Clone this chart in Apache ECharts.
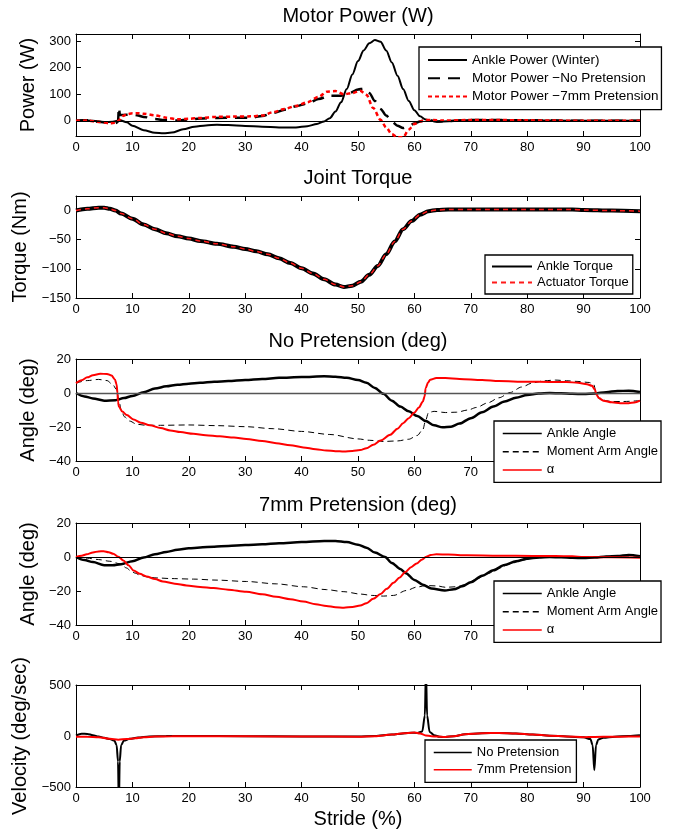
<!DOCTYPE html>
<html><head><meta charset="utf-8">
<script src="https://cdn.jsdelivr.net/npm/echarts@6/dist/echarts.min.js"></script>
<style>html,body{margin:0;padding:0;background:#fff}#c{width:676px;height:831px}</style>
</head><body><div id="c"></div>
<script>
// ---------- data (x = stride %, y = value) ----------
const strideTicks = [0,10,20,30,40,50,60,70,80,90,100];
const panelTitles = ['Motor Power (W)', 'Joint Torque', 'No Pretension (deg)', '7mm Pretension (deg)'];
const yNames = ['Power (W)', 'Torque (Nm)', 'Angle (deg)', 'Angle (deg)', 'Velocity (deg/sec)'];
const xName = 'Stride (%)';

const powerTicks = [0,100,200,300];
const torqueTicks = [-150,-100,-50,0];
const angleTicks = [-40,-20,0,20];
const velocityTicks = [-500,0,500];

const anklePower = [[0,0],[1.5,3],[3,0],[5,-5],[6.5,-3],[7.8,2],[9,-5],[10,-18],[12,-35],[14,-45],[15.5,-47],[17,-44],[19,-32],[21,-22],[23,-17],[25,-15],[27,-16],[30,-19],[33,-22],[36,-25],[39,-25],[41,-20],[42.7,-12],[44,-2],[45,10],[46,35],[47,70],[48,120],[49,175],[50,225],[51,265],[52,292],[53,304],[54,298],[55,265],[56,220],[57,170],[58,120],[59,75],[60,40],[61,17],[62,5],[63,0],[64,-3],[66,-1],[70,3],[75,3],[80,2],[85,1],[90,0],[95,0],[100,0]];
const motorPowerNoPre = [[0,0],[2,2],[4,-3],[6,-8],[7,-8],[7.45,-4],[7.6,50],[7.8,22],[9,23],[10,24],[11,20],[12,15],[14,7],[16,2],[18,1],[20,5],[22,9],[25,11],[28,12],[31,12],[33,18],[35,30],[37,42],[39,55],[41,65],[43,82],[45,95],[47,95],[48.5,105],[50,118],[51,122],[52,105],[53,75],[54,45],[55,20],[56,-3],[57,-18],[58,-27],[59,-20],[60,-10],[61,-2],[62,3],[63,1],[64,-2],[66,-1],[70,3],[75,3],[80,2],[85,1],[90,0],[100,0]];
const motorPower7mm = [[0,0],[2,1],[4,-4],[6,-9],[7,-7],[7.5,0],[8.3,18],[9,25],[10,29],[11,29],[12,27],[14,21],[16,12],[18,6],[20,8],[22,11],[25,15],[28,16],[31,17],[33,20],[35,33],[37,45],[39,56],[41,70],[43,90],[44.5,110],[46,112],[47.5,100],[49,105],[50.4,113],[51.5,98],[52.7,48],[54,4],[55,-25],[56,-50],[57,-62],[58,-62],[59,-33],[60,-12],[61,-2],[62,3],[63,3],[65,1],[70,3],[75,3],[80,2],[85,1],[90,0],[100,0]];

const ankleTorque = [[0,0],[2,3],[4,5],[5,5],[6,3],[7,0],[8,-5],[10,-14],[12,-24],[14,-32],[16,-39],[18,-44],[20,-48],[22,-52],[25,-57],[28,-62],[30,-66],[32,-70],[34,-75],[36,-82],[38,-90],[40,-99],[42,-108],[44,-118],[46,-127],[47.5,-131],[49,-129],[50.5,-122],[52,-110],[53.5,-95],[55,-75],[56.5,-53],[58,-32],[59.5,-18],[61,-7],[62.5,-1],[64,1],[66,2],[70,2],[80,2],[88,2],[90,1],[95,0],[100,-1]];
const actuatorTorque = [[0,0],[2,3],[4,5],[5,5],[6,3],[7,0],[8,-5],[10,-14],[12,-24],[14,-32],[16,-39],[18,-44],[20,-48],[22,-52],[25,-57],[28,-62],[30,-66],[32,-70],[34,-75],[36,-82],[38,-90],[40,-99],[42,-108],[44,-118],[46,-127],[47.5,-131],[49,-129],[50.5,-122],[52,-110],[53.5,-95],[55,-75],[56.5,-53],[58,-32],[59.5,-18],[61,-7],[62.5,-1],[64,1],[66,2],[70,2],[80,2],[88,2],[90,1],[95,0],[100,-1]];

const ankleAngleNoPre = [[0,0],[1.5,-2],[3,-3.2],[5,-4.5],[7,-4.2],[8.5,-3],[10,-1.7],[12,0.5],[14,2.6],[16,3.9],[18,4.9],[20,5.5],[22,6],[24.5,6.6],[27,7],[30,7.6],[33,8.2],[36,8.9],[40,9.4],[44,9.8],[46,9.6],[48,9],[50,7.6],[51.5,6],[53,3],[54.5,-0.5],[56,-4.5],[57.5,-8],[59,-10.8],[60.5,-13.5],[62,-16.5],[63.5,-19],[65,-20.2],[66.5,-19.8],[68,-18],[70,-14.8],[72,-11.3],[74,-8],[76,-5],[78,-2.8],[80,-1.2],[82,-0.3],[84,0],[86,-0.2],[88,-0.5],[90,-0.6],[92,-0.3],[94,0.5],[96,1.2],[98,1.3],[100,0.6]];
const momentArmNoPre = [[0,5.8],[2,7.3],[4,8],[5.5,7.3],[6.5,5],[7.2,2],[7.6,-4],[8,-10],[8.6,-14],[9.5,-16.5],[10.8,-18.4],[12.5,-19],[15,-19],[20,-18.8],[25,-19.2],[30,-19.8],[35,-21],[40,-22.6],[45,-24.4],[50,-27],[52,-27.8],[54.5,-28.5],[57,-28.2],[59,-27.2],[60.5,-25],[61.5,-21.5],[62,-16],[62.5,-11.5],[63.5,-10.8],[65.5,-11.5],[67.5,-11.3],[69.5,-10],[71,-8.5],[73,-5.8],[75,-2.8],[77,0.3],[79,3.5],[81,6],[83,7.2],[85,7.6],[87,7.2],[89,6.8],[91,6.2],[91.8,5],[92.3,-1],[93,-4],[95,-5],[97,-5],[100,-4.5]];
const alphaNoPre = [[0,5.8],[1,7.5],[2,9.2],[3,10.5],[4.3,11.3],[5.5,11.2],[6.3,10.3],[6.9,8],[7.2,5],[7.35,0],[7.45,-5],[7.6,-8],[8.2,-10.9],[9,-13],[10.2,-15.6],[11.5,-17.5],[13.1,-19],[15,-20.6],[16.7,-22],[18.5,-23],[20.8,-24],[23,-24.8],[25.5,-25.5],[28,-26.2],[30.2,-27],[33,-28.2],[35.5,-29.5],[38,-30.7],[40.3,-32],[42.5,-33.1],[44.4,-33.8],[46,-34.2],[47.5,-34.4],[49,-34.1],[50.4,-33.6],[51.5,-32.5],[52.7,-30.5],[54,-28],[55.7,-24.6],[57,-21],[58,-17.8],[59,-14.8],[60,-11.5],[60.8,-8.5],[61.5,-5],[61.8,-2],[62,2.8],[62.4,6],[62.8,7.8],[63.9,8.8],[65.5,8.8],[68,8.3],[72,7.6],[75,7],[80,6.6],[84,6.5],[87,6.5],[89,6],[90.6,5.2],[91.5,4.2],[92,2],[92.3,-1],[92.7,-3],[93.5,-4.5],[95,-5.5],[96.5,-6],[98,-6],[99,-5.6],[100,-4.5]];

const ankleAngle7mm = [[0,0],[1.5,-1.8],[3,-3],[5,-4.8],[6.5,-4.8],[8,-4.2],[10,-2.5],[12,-0.3],[14,1.6],[16,3],[18,4.2],[20,5.1],[22,5.6],[24.5,6.1],[27,6.5],[30,7],[33,7.5],[36,8.1],[40,8.8],[44,9.4],[46,9.4],[48,8.8],[50,7.2],[51.5,5.5],[53,2.6],[54.8,0],[56,-3.5],[57.5,-7],[58.5,-9.5],[60,-13.5],[61.5,-16.3],[63,-18.5],[65.4,-19.7],[67,-19],[68.5,-17.2],[70,-14.8],[72,-11],[74,-7.8],[76,-4.7],[78,-2.5],[80,-1],[82,-0.3],[84,0],[86,-0.2],[88,-0.5],[90,-0.6],[92,-0.3],[94,0.3],[96,0.6],[98,1.2],[100,0.4]];
const momentArm7mm = [[0,0],[2,-0.7],[4,-1.5],[6,-2.5],[7.8,-4],[9,-6.5],[9.6,-7.9],[10.5,-9.5],[11.4,-10.8],[12.8,-11.8],[14.2,-12.3],[17,-12.7],[20.8,-13],[25,-13.6],[30.2,-14.4],[35.5,-15.8],[40.3,-17.5],[44.4,-19.2],[47.5,-20.4],[50.4,-21.8],[52.5,-22.6],[54.5,-23],[56.3,-22.6],[58.6,-19.7],[60.4,-17.7],[62.1,-16.8],[64,-17],[65.5,-17.8],[67.5,-17.5],[69,-16.2],[71,-13],[73,-9.8],[75,-6.5],[77,-4],[79,-2],[81,-0.7],[84,0],[88,-0.2],[92,0.1],[96,0.6],[100,0.6]];
const alpha7mm = [[0,0],[1,0.8],[1.9,1.6],[3,2.7],[4,3.3],[4.9,3.4],[5.8,2.8],[6.6,1.9],[7.5,0.2],[8.4,-2],[9.3,-4.8],[10.2,-7.9],[11.3,-9.9],[12.5,-11.4],[14,-13],[15.4,-14.4],[17.5,-15.7],[19.6,-16.7],[22,-17.6],[24.4,-18.3],[27,-19.2],[30.2,-20.5],[33,-21.9],[35.5,-23.4],[38,-24.8],[40.3,-26.2],[42.5,-27.8],[44.4,-28.8],[46,-29.5],[47.5,-29.8],[49,-29.4],[50.4,-28.6],[51.5,-27.2],[52.7,-24.6],[54,-21.8],[55.1,-18.7],[56.3,-15.2],[57.4,-12],[58.4,-8.8],[59.4,-6],[60.4,-3.8],[61.3,-1.6],[62.1,0.2],[62.9,1.2],[63.9,1.6],[66,1.4],[69.3,1],[75,0.8],[81,0.6],[85,0.6],[88,0.4],[90,0],[95,-0.2],[100,-0.4]];

const velocityNoPre = [[0,5],[1,22],[2,20],[3,8],[4,-5],[5,-18],[6,-30],[6.8,-45],[7.2,-90],[7.45,-250],[7.6,-700],[7.75,-250],[8,-90],[8.5,-45],[9.5,-28],[11,-15],[13,-4],[16,-1],[20,0],[30,-2],[40,-4],[50,-6],[53,0],[56,15],[58,25],[59.5,32],[60.5,30],[61.4,45],[61.85,200],[62.05,650],[62.25,200],[62.7,40],[63.5,8],[64.5,-8],[65.5,-10],[67,-2],[69,18],[72,27],[75,30],[78,25],[81,15],[84,3],[87,-5],[90,-13],[91.2,-30],[91.6,-90],[91.9,-335],[92.2,-90],[92.6,-35],[93.5,-18],[95.5,-7],[98,0],[100,8]];
const velocity7mm = [[0,-7],[2,-8],[4,-12],[6,-28],[7.5,-36],[9,-30],[10.5,-22],[12,-12],[14,-6],[17,-3],[20,-2],[30,-3],[40,-5],[50,-7],[53,-2],[56,14],[58,26],[60,35],[61,25],[62,6],[63,-2],[64,-6],[65.5,-10],[67,-2],[69,18],[72,27],[75,30],[78,25],[81,15],[84,3],[87,-5],[90,-12],[92,-10],[95,-7],[98,-6],[100,-6]];

// ---------- layout ----------
const FONT = "'Liberation Sans', Arial, sans-serif";
const gridTops = [34, 196, 359, 523, 685];
const yRanges = [[-57, 327], [-150, 25], [-40, 20], [-40, 20], [-500, 500]];
const yTicks = [powerTicks, torqueTicks, angleTicks, angleTicks, velocityTicks];
const minus = v => String(v).replace('-', '\u2212');

const grid = gridTops.map(t => ({left: 76, width: 564, top: t, height: 102}));
const xAxis = [], yAxis = [];
gridTops.forEach((t, i) => {
  const base = {type: 'value', gridIndex: i, min: 0, max: 100, interval: 10,
    axisLine: {show: true, onZero: false, lineStyle: {color: '#000', width: 1}},
    axisTick: {show: true, inside: true, length: 5, lineStyle: {color: '#000', width: 1}},
    splitLine: {show: false}};
  xAxis.push(Object.assign({}, base, {position: 'bottom',
    axisLabel: {color: '#000', fontSize: 13, fontFamily: FONT, margin: 5},
    name: i === 4 ? xName : '', nameLocation: 'middle', nameGap: 22,
    nameTextStyle: {color: '#000', fontSize: 20, fontFamily: FONT}}));
  xAxis.push(Object.assign({}, base, {position: 'top', axisLabel: {show: false}}));
  const ybase = {type: 'value', gridIndex: i, min: yRanges[i][0], max: yRanges[i][1],
    axisLine: {show: true, onZero: false, lineStyle: {color: '#000', width: 1}},
    axisTick: {show: true, inside: true, length: 5, customValues: yTicks[i], lineStyle: {color: '#000', width: 1}},
    splitLine: {show: false}};
  yAxis.push(Object.assign({}, ybase, {position: 'left',
    axisLabel: {color: '#000', fontSize: 13, fontFamily: FONT, margin: 5, customValues: yTicks[i], formatter: minus},
    name: yNames[i], nameLocation: 'middle', nameRotate: 90, nameGap: 32,
    nameTextStyle: {color: '#000', fontSize: 20, fontFamily: FONT}}));
  yAxis.push(Object.assign({}, ybase, {position: 'right', axisLabel: {show: false, customValues: yTicks[i]}}));
});

const zeroLine = (color, w) => ({silent: true, symbol: 'none', label: {show: false},
  lineStyle: {color: color, width: w, type: 'solid'}, data: [{yAxis: 0}], animation: false});

function line(name, data, i, style, extra) {
  return Object.assign({type: 'line', name: name, data: data, xAxisIndex: 2 * i, yAxisIndex: 2 * i,
    symbol: 'none', smooth: 0.3, smoothMonotone: 'x', lineStyle: style, itemStyle: {color: style.color},
    animation: false, silent: true}, extra || {});
}

const series = [
  line('Ankle Power (Winter)', anklePower, 0, {color: '#000', width: 2}, {markLine: zeroLine('#000', 1)}),
  line('Motor Power \u2212No Pretension', motorPowerNoPre, 0, {color: '#000', width: 2.5, type: [12, 8]}),
  line('Motor Power \u22127mm Pretension', motorPower7mm, 0, {color: '#ff0000', width: 2.5, type: [4, 3]}),
  line('Ankle Torque', ankleTorque, 1, {color: '#000', width: 4}),
  line('Actuator Torque', actuatorTorque, 1, {color: '#ff1a1a', width: 1.5, type: [5, 4]}),
  line('Ankle Angle', ankleAngleNoPre, 2, {color: '#000', width: 2.5}, {markLine: zeroLine('#555', 1.3)}),
  line('Moment Arm Angle', momentArmNoPre, 2, {color: '#000', width: 1, type: [6, 4]}),
  line('\u03b1', alphaNoPre, 2, {color: '#ff0000', width: 2}),
  line('Ankle Angle', ankleAngle7mm, 3, {color: '#000', width: 2.5}, {markLine: zeroLine('#000', 1)}),
  line('Moment Arm Angle', momentArm7mm, 3, {color: '#000', width: 1, type: [6, 4]}),
  line('\u03b1', alpha7mm, 3, {color: '#ff0000', width: 2}),
  line('No Pretension', velocityNoPre, 4, {color: '#000', width: 2}),
  line('7mm Pretension', velocity7mm, 4, {color: '#ff0000', width: 2}),
];

const legendBase = {orient: 'vertical', backgroundColor: '#fff', borderColor: '#000', borderWidth: 1.3,
  borderRadius: 0, itemHeight: 14, selectedMode: false, z: 10, itemStyle: {opacity: 0},
  textStyle: {color: '#000', fontSize: 13, fontFamily: FONT}};
const legend = [
  Object.assign({}, legendBase, {data: ['Ankle Power (Winter)', 'Motor Power \u2212No Pretension', 'Motor Power \u22127mm Pretension'],
    left: 419, top: 47, padding: [6, 3, 6, 8], itemGap: 4.3, itemWidth: 39,
    textStyle: {color: '#000', fontSize: 13.5, fontFamily: FONT}}),
  Object.assign({}, legendBase, {data: ['Ankle Torque', 'Actuator Torque'],
    left: 485, top: 255, padding: [5, 4, 5, 6], itemGap: 3, itemWidth: 40}),
  Object.assign({}, legendBase, {data: ['Ankle Angle', 'Moment Arm Angle', '\u03b1'],
    left: 494, top: 421, padding: [6, 3, 6, 8], itemGap: 5.2, itemWidth: 39, lineStyle: {width: 1.5}}),
  Object.assign({}, legendBase, {data: ['Ankle Angle', 'Moment Arm Angle', '\u03b1'],
    left: 494, top: 581, padding: [6, 3, 6, 8], itemGap: 5.2, itemWidth: 39, lineStyle: {width: 1.5}}),
  Object.assign({}, legendBase, {data: ['No Pretension', '7mm Pretension'],
    left: 425, top: 740, padding: [6, 5, 6, 8], itemGap: 4.3, itemWidth: 38, lineStyle: {width: 1.5}}),
];

const titleY = [16, 178, 341, 505];
const graphic = panelTitles.map((t, i) => ({type: 'text', x: 358, y: titleY[i], silent: true,
  style: {text: t, fill: '#000', font: '20px ' + FONT, align: 'center', verticalAlign: 'middle',
    textAlign: 'center', textVerticalAlign: 'middle'}}));

const chart = echarts.init(document.getElementById('c'), null, {renderer: 'canvas'});
chart.setOption({backgroundColor: '#fff', animation: false, grid, xAxis, yAxis, series, legend, graphic});
</script>
</body></html>
